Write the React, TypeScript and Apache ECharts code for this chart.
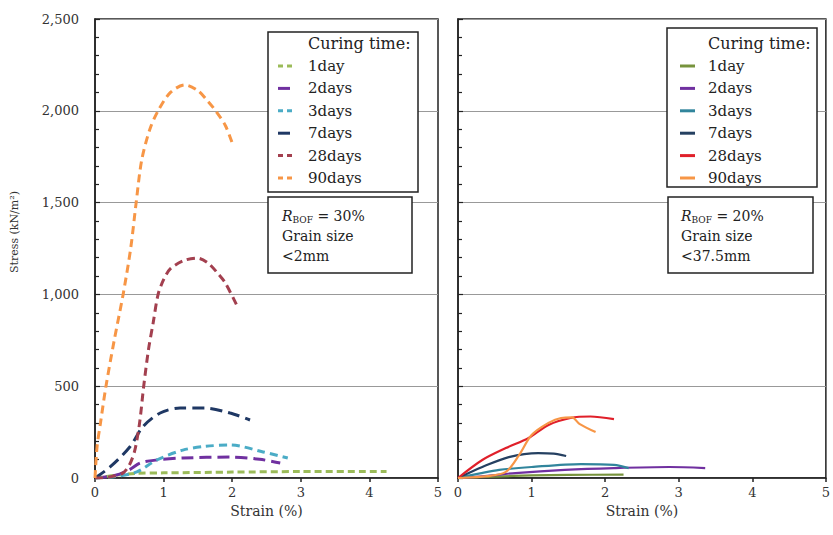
import React, { useEffect, useRef } from "react";
import * as echarts from "echarts";

type Pt = [number, number];

const LABELS = ["1day", "2days", "3days", "7days", "28days", "90days"];

// Left panel: R_BOF = 30%, grain size < 2mm (dashed)
const L_1DAY: Pt[] = [[0, 0], [0.3, 15], [0.6, 25], [1, 28], [2, 32], [3, 35], [4.25, 35]];
const L_2DAYS: Pt[] = [[0, 0], [0.3, 15], [0.5, 45], [0.66, 82], [0.9, 98], [1.28, 109], [1.97, 114], [2.4, 102], [2.7, 82]];
const L_3DAYS: Pt[] = [[0, 0], [0.3, 8], [0.61, 33], [0.9, 98], [1.28, 152], [1.6, 172], [1.97, 180], [2.45, 142], [2.81, 109]];
const L_7DAYS: Pt[] = [[0, 0], [0.22, 60], [0.51, 170], [0.7, 280], [0.95, 354], [1.24, 381], [1.6, 381], [1.97, 354], [2.26, 316]];
const L_28DAYS: Pt[] = [[0, 0], [0.2, 5], [0.4, 25], [0.5, 70], [0.58, 150], [0.65, 300], [0.71, 500], [0.78, 700], [0.85, 850], [0.92, 1000], [1.0, 1080], [1.1, 1140], [1.3, 1185], [1.49, 1198], [1.65, 1170], [1.8, 1110], [1.9, 1062], [2.08, 931]];
const L_90DAYS: Pt[] = [[0, 0], [0.03, 170], [0.08, 300], [0.16, 500], [0.28, 750], [0.41, 1000], [0.52, 1250], [0.6, 1500], [0.68, 1730], [0.8, 1900], [0.92, 2000], [1.1, 2100], [1.31, 2141], [1.5, 2110], [1.65, 2050], [1.75, 2004], [1.9, 1920], [2.01, 1814]];

// Right panel: R_BOF = 20%, grain size < 37.5mm (solid)
const R_1DAY: Pt[] = [[0, 0], [0.5, 8], [1, 14], [1.5, 17], [2.25, 18]];
const R_2DAYS: Pt[] = [[0, 0], [0.4, 12], [0.78, 27], [1.45, 44], [2.12, 54], [2.87, 60], [3.36, 54]];
const R_3DAYS: Pt[] = [[0, 0], [0.3, 25], [0.56, 44], [1.0, 60], [1.67, 76], [2.12, 71], [2.32, 54]];
const R_7DAYS: Pt[] = [[0, 0], [0.33, 60], [0.69, 114], [1.09, 136], [1.3, 133], [1.47, 120]];
const R_28DAYS: Pt[] = [[0, 0], [0.33, 98], [0.65, 163], [0.96, 218], [1.23, 289], [1.53, 327], [1.8, 335], [2.12, 321]];
const R_90DAYS: Pt[] = [[0, 0], [0.4, 10], [0.65, 33], [0.83, 125], [1.0, 234], [1.23, 300], [1.4, 327], [1.55, 330], [1.65, 295], [1.87, 250]];

const LEFT_DATA = [L_1DAY, L_2DAYS, L_3DAYS, L_7DAYS, L_28DAYS, L_90DAYS];
const RIGHT_DATA = [R_1DAY, R_2DAYS, R_3DAYS, R_7DAYS, R_28DAYS, R_90DAYS];

const LEFT_COLORS = ["#9bbb59", "#7030a0", "#4bacc6", "#1f3864", "#a3404f", "#f79646"];
const RIGHT_COLORS = ["#77933c", "#7030a0", "#31859c", "#254061", "#e0202a", "#f79646"];
const LEFT_DASH = [[7, 4], [12, 6], [8, 5], [12, 6], [8, 5], [8, 5]];

const FONT = "DejaVu Serif";

export default function App() {
  const ref = useRef<HTMLDivElement>(null);

  useEffect(() => {
    if (!ref.current) return;
    const chart = echarts.init(ref.current, null, { renderer: "svg" });

    const grids = [
      { left: 95, top: 19, width: 343, height: 459 },
      { left: 458, top: 19, width: 374, height: 459 },
    ];

    const xAxis = [0, 1].map((i) => ({
      type: "value",
      gridIndex: i,
      min: 0,
      max: 5,
      interval: 1,
      name: "Strain (%)",
      nameLocation: "middle",
      nameGap: 22,
      nameTextStyle: { fontFamily: FONT, fontSize: 14, color: "#333" },
      axisLine: { show: true, onZero: false, lineStyle: { color: "#222", width: 1.5 } },
      axisTick: { show: true, inside: false, length: 4, lineStyle: { color: "#222", width: 1.5 } },
      axisLabel: { fontFamily: FONT, fontSize: 13, color: "#333", margin: 8 },
      splitLine: { show: false },
    }));

    const yAxis = [0, 1].map((i) => ({
      type: "value",
      gridIndex: i,
      min: 0,
      max: 2500,
      interval: 500,
      axisLine: { show: true, lineStyle: { color: "#222", width: 1.5 } },
      axisTick: { show: true, inside: true, length: 5, lineStyle: { color: "#222", width: 1.2 } },
      minorTick: { show: true, splitNumber: 5, length: 4, lineStyle: { color: "#222", width: 1.2 } },
      axisLabel: {
        show: i === 0,
        fontFamily: FONT,
        fontSize: 13,
        color: "#333",
        margin: 16,
        formatter: (v: number) => v.toLocaleString("en-US"),
      },
      splitLine: { show: true, lineStyle: { color: "#999", width: 1.2 } },
    }));

    const series: any[] = [];
    LEFT_DATA.forEach((d, k) => {
      series.push({
        type: "line",
        name: LABELS[k],
        xAxisIndex: 0,
        yAxisIndex: 0,
        data: d,
        smooth: 0.3,
        showSymbol: false,
        lineStyle: { color: LEFT_COLORS[k], width: 3, type: LEFT_DASH[k] },
      });
    });
    RIGHT_DATA.forEach((d, k) => {
      series.push({
        type: "line",
        name: LABELS[k],
        xAxisIndex: 1,
        yAxisIndex: 1,
        data: d,
        smooth: 0.3,
        showSymbol: false,
        lineStyle: { color: RIGHT_COLORS[k], width: 2.2 },
      });
    });

    const graphics: any[] = [];
    const boxStyle = { fill: "#fff", stroke: "#222", lineWidth: 1.5 };
    const txt = { fontFamily: FONT, fontSize: 15, fill: "#222" };

    const legendBox = (bx: number, by: number, bw: number, bh: number, symX: number, textX: number, dashed: boolean, colors: string[]) => {
      graphics.push({ type: "rect", shape: { x: bx, y: by, width: bw, height: bh }, style: boxStyle, z: 10 });
      graphics.push({
        type: "text",
        x: textX,
        y: 43,
        style: { ...txt, fontSize: 16, text: "Curing time:", textVerticalAlign: "middle" },
        z: 11,
      });
      LABELS.forEach((lab, k) => {
        const y = 66 + k * 22.4;
        const dash = dashed ? (LEFT_DASH[k][0] > 10 ? [12, 6] : [5, 4]) : null;
        graphics.push({
          type: "line",
          shape: { x1: symX, y1: y, x2: symX + 15, y2: y },
          style: { stroke: colors[k], lineWidth: 3, lineDash: dash },
          z: 11,
        });
        graphics.push({
          type: "text",
          x: textX,
          y: y,
          style: { ...txt, text: lab, textVerticalAlign: "middle" },
          z: 11,
        });
      });
    };

    const noteBox = (bx: number, by: number, bw: number, bh: number, tx: number, pct: string, size: string) => {
      graphics.push({ type: "rect", shape: { x: bx, y: by, width: bw, height: bh }, style: boxStyle, z: 10 });
      graphics.push({
        type: "text",
        x: tx,
        y: 216,
        style: {
          text: "{i|R}{s|BOF}{n| = " + pct + "}",
          textVerticalAlign: "middle",
          rich: {
            i: { fontFamily: FONT, fontSize: 14, fontStyle: "italic", fill: "#222" },
            s: { fontFamily: FONT, fontSize: 9, fill: "#222", padding: [8, 0, 0, 0] },
            n: { fontFamily: FONT, fontSize: 14, fill: "#222" },
          },
        },
        z: 11,
      });
      graphics.push({ type: "text", x: tx, y: 236, style: { ...txt, fontSize: 14, text: "Grain size", textVerticalAlign: "middle" }, z: 11 });
      graphics.push({ type: "text", x: tx, y: 256, style: { ...txt, fontSize: 14, text: size, textVerticalAlign: "middle" }, z: 11 });
    };

    legendBox(268, 32, 150, 160, 278, 308, true, LEFT_COLORS);
    noteBox(268, 197, 144, 76, 282, "30%", "<2mm");
    legendBox(667, 28, 150, 159, 680, 708, false, RIGHT_COLORS);
    noteBox(668, 197, 145, 76, 681, "20%", "<37.5mm");

    graphics.push({
      type: "text",
      x: 14,
      y: 232,
      rotation: Math.PI / 2,
      style: { text: "Stress (kN/m²)", fontFamily: FONT, fontSize: 11, fill: "#333", textAlign: "center", textVerticalAlign: "middle" },
    });

    chart.setOption({
      animation: false,
      backgroundColor: "#fff",
      grid: grids.map((g) => ({ ...g, show: true, borderColor: "#222", borderWidth: 1.5, containLabel: false })),
      xAxis,
      yAxis,
      series,
      graphic: graphics,
    });

    return () => chart.dispose();
  }, []);

  return <div ref={ref} style={{ position: "absolute", left: 0, top: 0, width: 833, height: 535 }} />;
}
